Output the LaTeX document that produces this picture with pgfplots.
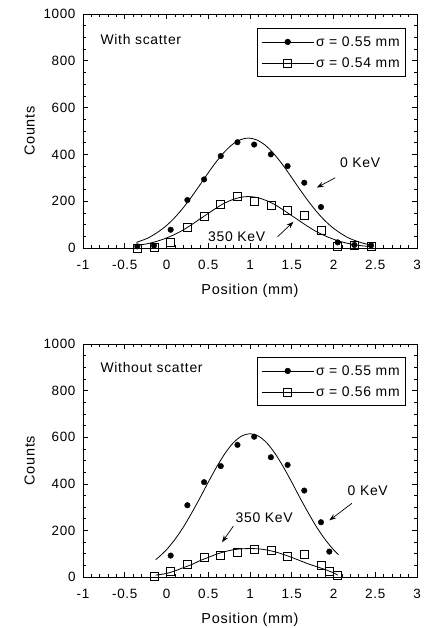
\documentclass[border=0pt]{standalone}
\usepackage{fontspec}
\setmainfont[LetterSpace=5]{Liberation Sans}
\usepackage{pgfplots}
\pgfplotsset{compat=1.18}
\usetikzlibrary{arrows.meta}

\newcommand{\txt}{\fontsize{14}{16}\selectfont}

\pgfplotsset{
  panel/.style={
    width=334bp, scale only axis,
    xmin=-1, xmax=3, ymin=0, ymax=1000,
    xtick={-1,-0.5,0,0.5,1,1.5,2,2.5,3},
    ytick={0,200,400,600,800,1000},
    minor x tick num=4, minor y tick num=3,
    tick align=inside, major tick length=5bp, minor tick length=3bp,
    axis line style={line width=0.8pt},
    every tick/.style={black, line width=0.6pt},
    /pgf/number format/assume math mode=true,
    /pgf/number format/fixed,
    /pgf/number format/1000 sep={},
    ticklabel style={font=\fontsize{13.5}{15}\selectfont},
    xticklabel style={yshift=-9bp},
    yticklabel style={xshift=-4bp},
    label style={font=\fontsize{14.5}{16}\selectfont},
    xlabel style={yshift=-7bp},
    ylabel style={yshift=2bp},
    xlabel={Position (mm)}, ylabel={Counts},
    legend cell align=left,
    legend image code/.code={
      \draw[mark repeat=2,mark phase=2] plot coordinates {(0bp,0bp) (26bp,0bp) (52bp,0bp)};},
    legend style={anchor=north east, draw=black, line width=0.8pt,
      font=\txt, inner xsep=4bp, inner ysep=6bp,
      row sep=6bp, cells={line width=0.6pt}},
  },
  fit/.style={black, line width=0.8pt, smooth, no markers, forget plot},
  dots/.style={only marks, mark=*, mark size=2.8bp, black, forget plot},
  boxes/.style={only marks, mark=square, mark size=4bp, black, line width=0.6pt, forget plot},
}

\begin{document}
\begin{tikzpicture}
\useasboundingbox (0,0) rectangle (425bp,628bp);

% ---------- with scatter ----------
\begin{axis}[panel, height=234bp, at={(83bp,380bp)}, anchor=south west,
  legend style={at={(rel axis cs:0.967,0.94)}}]
\addlegendimage{black, line width=0.6pt, mark=*, mark size=2.8bp}
\addlegendentry{σ = 0.55 mm}
\addlegendimage{black, line width=0.6pt, mark=square, mark size=4bp}
\addlegendentry{σ = 0.54 mm}

% 0 KeV fit
\addplot[fit] coordinates {
  (-0.36,24) (-0.32,29) (-0.22,43) (-0.12,64) (-0.02,90) (0.08,123) (0.18,163)
  (0.28,209) (0.38,259) (0.48,311) (0.58,361) (0.68,405) (0.78,440) (0.88,462)
  (0.98,470) (1.08,462) (1.18,440) (1.28,405) (1.38,361) (1.48,311) (1.58,259)
  (1.68,209) (1.78,163) (1.88,123) (1.98,90) (2.08,64) (2.18,43) (2.28,29)
  (2.38,18) (2.46,13)};
% 350 KeV fit
\addplot[fit] coordinates {
  (-0.36,10) (-0.22,19) (-0.12,28) (-0.02,40) (0.08,55) (0.18,73) (0.28,95)
  (0.38,119) (0.48,143) (0.58,167) (0.68,189) (0.78,205) (0.88,216) (0.98,220)
  (1.08,216) (1.18,205) (1.28,189) (1.38,167) (1.48,143) (1.58,119) (1.68,95)
  (1.78,73) (1.88,55) (1.98,40) (2.08,28) (2.18,19) (2.28,12) (2.38,8) (2.46,6)};
% measured 0 KeV
\addplot[dots] coordinates {
  (-0.35,7) (-0.15,10) (0.05,78) (0.25,205) (0.45,293) (0.65,393) (0.85,452)
  (1.05,442) (1.25,400) (1.45,350) (1.65,279) (1.85,175) (2.05,24) (2.25,13) (2.45,11)};
% measured 350 KeV
\addplot[boxes] coordinates {
  (-0.35,0) (-0.15,2) (0.05,26) (0.25,90) (0.45,135) (0.65,186) (0.85,219)
  (1.05,200) (1.25,181) (1.45,159) (1.65,141) (1.85,74) (2.05,7) (2.25,10) (2.45,7)};

\node[anchor=west, font=\txt] at (rel axis cs:0.042,0.893) {With  scatter};
\node[font=\txt] at (axis cs:2.32,364) {0 KeV};
\draw[-{Stealth[length=7bp,width=5bp]}, line width=0.7pt] (axis cs:2.02,300) -- (axis cs:1.80,258);
\node[font=\txt] at (axis cs:0.84,48) {350 KeV};
\draw[-{Stealth[length=7bp,width=5bp]}, line width=0.7pt] (axis cs:1.33,48) -- (axis cs:1.52,112);
\end{axis}

% ---------- without scatter ----------
\begin{axis}[panel, height=233bp, at={(83bp,51bp)}, anchor=south west,
  legend style={at={(rel axis cs:0.967,0.944)}}]
\addlegendimage{black, line width=0.6pt, mark=*, mark size=2.8bp}
\addlegendentry{σ = 0.55 mm}
\addlegendimage{black, line width=0.6pt, mark=square, mark size=4bp}
\addlegendentry{σ = 0.56 mm}

% 0 KeV fit
\addplot[fit] coordinates {
  (-0.13,75) (-0.1,83) (0.0,117) (0.1,161) (0.2,213) (0.3,274) (0.4,339) (0.5,407)
  (0.6,472) (0.7,530) (0.8,576) (0.9,605) (1.0,615) (1.1,605) (1.2,576) (1.3,530)
  (1.4,472) (1.5,407) (1.6,339) (1.7,274) (1.8,213) (1.9,161) (2.0,117) (2.06,96)};
% 350 KeV fit
\addplot[fit] coordinates {
  (-0.13,8) (0.0,15) (0.1,26) (0.2,40) (0.3,53) (0.4,70) (0.5,84) (0.6,98)
  (0.7,109) (0.8,117) (0.9,121) (1.0,122) (1.1,121) (1.2,116) (1.3,108) (1.4,97)
  (1.5,84) (1.6,70) (1.7,56) (1.8,44) (1.9,32) (2.0,18) (2.05,8)};
% measured 0 KeV
\addplot[dots] coordinates {
  (0.05,92) (0.25,308) (0.45,407) (0.65,476) (0.85,567) (1.05,602) (1.25,514)
  (1.45,481) (1.65,371) (1.85,235) (1.95,109)};
% measured 350 KeV
\addplot[boxes] coordinates {
  (-0.15,3) (0.05,26) (0.25,56) (0.45,86) (0.65,92) (0.85,105) (1.05,120)
  (1.25,116) (1.45,90) (1.65,97) (1.85,49) (1.95,24) (2.05,6)};

\node[anchor=west, font=\txt] at (rel axis cs:0.042,0.90) {Without  scatter};
\node[font=\txt] at (axis cs:2.41,372) {0 KeV};
\draw[-{Stealth[length=7bp,width=5bp]}, line width=0.7pt] (axis cs:2.22,316) -- (axis cs:1.95,243);
\node[font=\txt] at (axis cs:1.17,256) {350 KeV};
\draw[-{Stealth[length=7bp,width=5bp]}, line width=0.7pt] (axis cs:0.80,218) -- (axis cs:0.665,149);
\end{axis}
\end{tikzpicture}
\end{document}
